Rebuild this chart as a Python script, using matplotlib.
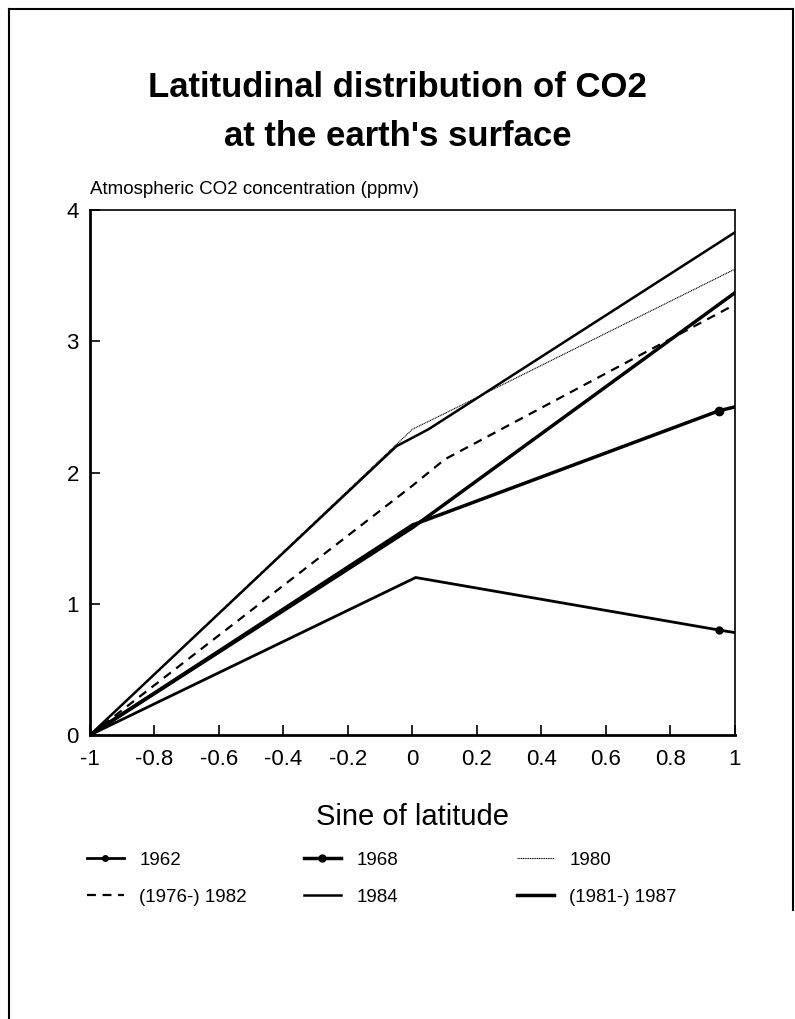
import numpy as np
import matplotlib.pyplot as plt
from matplotlib.lines import Line2D
from matplotlib.legend_handler import HandlerLine2D

plt.rcParams['font.family'] = ['Liberation Sans', 'DejaVu Sans']

# sine of latitude / CO2 difference (ppmv)
lat_1962 = [-1, 0.01, 0.95, 1]
co2_1962 = [0, 1.2, 0.8, 0.78]
lat_1968 = [-1, 0, 0.95, 1]
co2_1968 = [0, 1.6, 2.47, 2.5]
lat_1980 = [-1, 0, 0.1, 1]
co2_1980 = [0, 2.33, 2.45, 3.55]
lat_1982 = [-1, 0, 0.1, 1]
co2_1982 = [0, 1.9, 2.1, 3.28]
lat_1984 = [-1, -0.05, 0.05, 1]
co2_1984 = [0, 2.2, 2.33, 3.83]
lat_1987 = [-1, 0, 1]
co2_1987 = [0, 1.58, 3.37]

xticks = [-1, -0.8, -0.6, -0.4, -0.2, 0, 0.2, 0.4, 0.6, 0.8, 1]
xticklabels = ['-1', '-0.8', '-0.6', '-0.4', '-0.2', '0', '0.2', '0.4', '0.6', '0.8', '1']
yticks = [0, 1, 2, 3, 4]


class EndMarkerHandler(HandlerLine2D):
    # put the dot near the right end of the legend line, like the original
    def get_xdata(self, legend, xdescent, ydescent, width, height, fontsize):
        xdata = np.array([-xdescent, -xdescent + width])
        return xdata, np.array([-xdescent + 0.8 * width])


fig = plt.figure(figsize=(7.95, 10.19), dpi=100)
ax = fig.add_axes([0.1132, 0.2787, 0.8113, 0.5152])

l1, = ax.plot(lat_1962, co2_1962, color='black', lw=2, marker='o', ms=5, markevery=[2])
l2, = ax.plot(lat_1968, co2_1968, color='black', lw=2.5, marker='o', ms=6, markevery=[2])
l3, = ax.plot(lat_1980, co2_1980, color='black', lw=0.8, ls=(0, (1, 0.6)))
l4, = ax.plot(lat_1982, co2_1982, color='black', lw=1.6, ls=(0, (4, 3)))
l5, = ax.plot(lat_1984, co2_1984, color='black', lw=1.8)
l6, = ax.plot(lat_1987, co2_1987, color='black', lw=2.5)

ax.set_xlim(-1, 1)
ax.set_ylim(0, 4)
ax.set_xticks(xticks)
ax.set_xticklabels(xticklabels)
ax.set_yticks(yticks)
ax.tick_params(direction='in', length=7, width=1.2, labelsize=16)
ax.tick_params(axis='x', pad=10)
ax.tick_params(axis='y', pad=8)
for s in ['left', 'bottom']:
    ax.spines[s].set_linewidth(2)
for s in ['top', 'right']:
    ax.spines[s].set_linewidth(1.2)

ax.set_xlabel('Sine of latitude', fontsize=21, labelpad=24)
fig.text(0.1132, 0.806, 'Atmospheric CO2 concentration (ppmv)', fontsize=13.5,
         ha='left', va='bottom')

fig.text(0.5, 0.89, "Latitudinal distribution of CO2\nat the earth's surface",
         fontsize=25, fontweight='bold', ha='center', va='center', linespacing=1.6)

h1 = Line2D([], [], color='black', lw=2, marker='o', ms=4)
h2 = Line2D([], [], color='black', lw=2.5, marker='o', ms=5)
columns = [([h1, l4], ['1962', '(1976-) 1982'], 0.109),
           ([h2, l5], ['1968', '1984'], 0.382),
           ([l3, l6], ['1980', '(1981-) 1987'], 0.650)]
for hs, labs, x0 in columns:
    fig.legend(hs, labs, loc='upper left', bbox_to_anchor=(x0, 0.164),
               frameon=False, fontsize=13.5, handlelength=2.0, handletextpad=0.8,
               labelspacing=1.05, numpoints=1, borderpad=0, borderaxespad=0,
               handler_map={Line2D: EndMarkerHandler()})

# page frame
fig.add_artist(Line2D([0.011, 0.011], [0.0, 0.991], color='black', lw=1.5))
fig.add_artist(Line2D([0.011, 0.997], [0.991, 0.991], color='black', lw=1.5))
fig.add_artist(Line2D([0.997, 0.997], [0.107, 0.991], color='black', lw=1.5))

fig.savefig('out.png', dpi=100)
